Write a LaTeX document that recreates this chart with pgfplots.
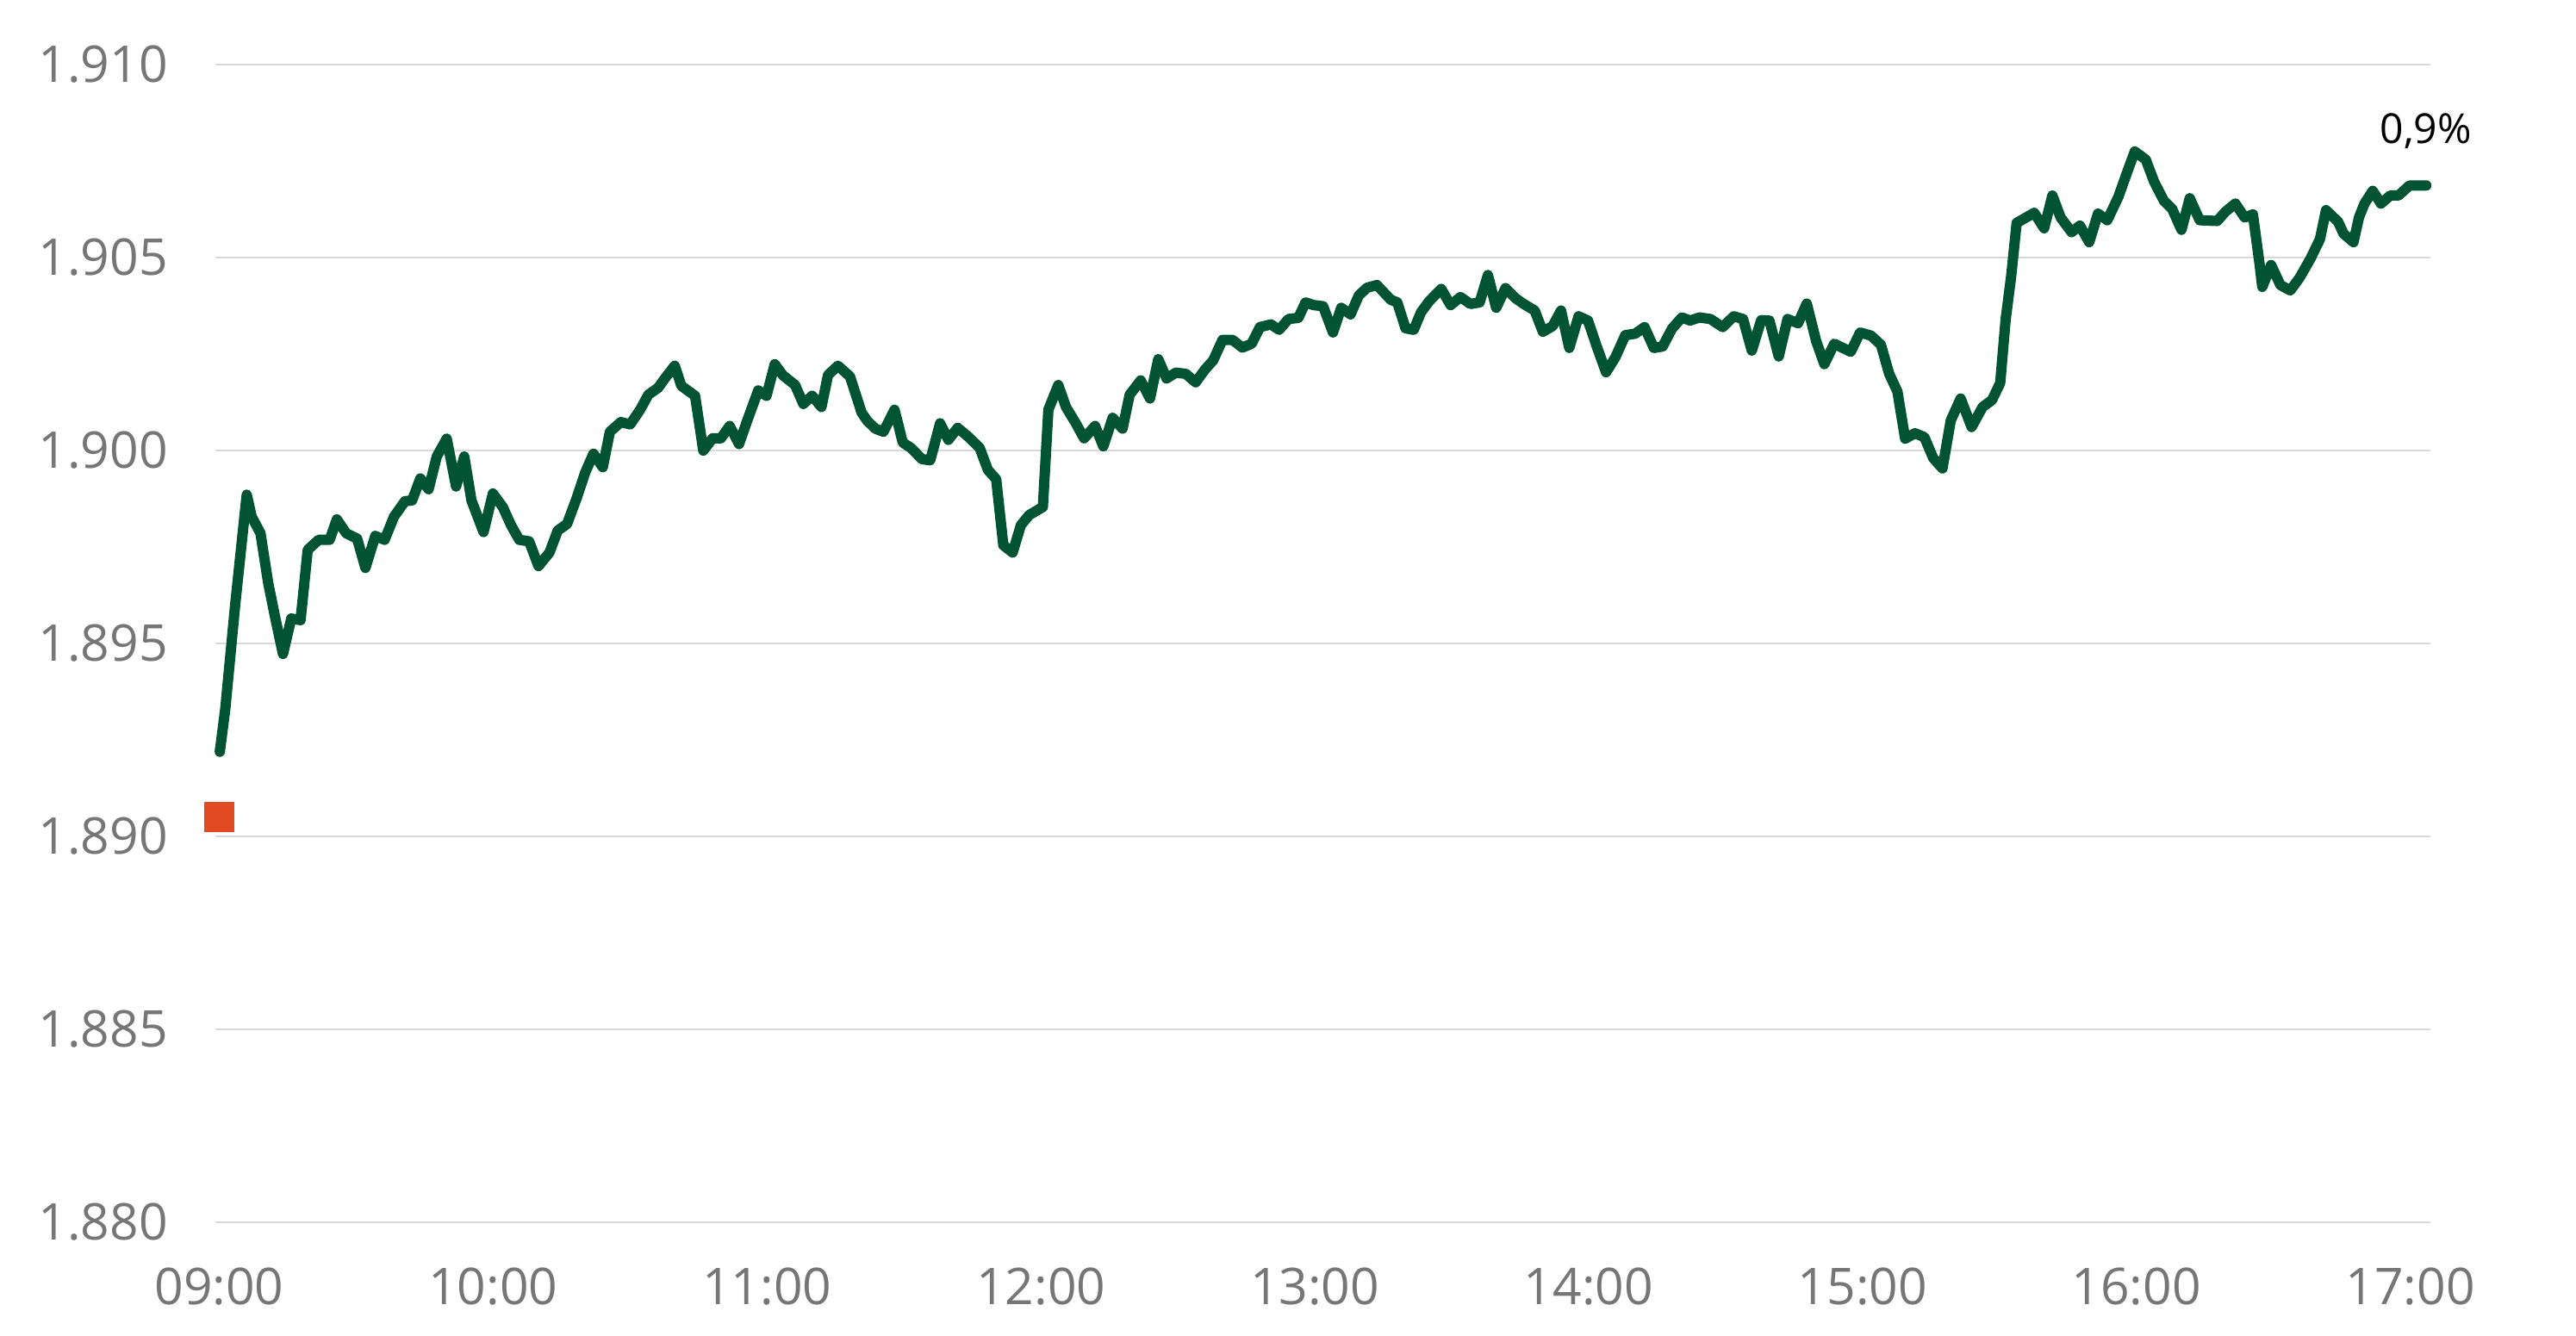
\documentclass[border=0pt]{standalone}
\usepackage{fontspec}
\setmainfont{Open Sans}
\usepackage{pgfplots}
\usepackage{pgfplotstable}
\pgfplotsset{compat=1.18}

\definecolor{lineGreen}{RGB}{0,83,51}
\definecolor{closeRed}{RGB}{224,75,35}
\definecolor{gridGray}{RGB}{217,217,217}
\definecolor{tickGray}{RGB}{118,118,118}

% minutes after 09:00, index level
\pgfplotstableread{
m v
0.12 1.89219
1.32 1.89330
3.49 1.89600
6.02 1.89885
7.10 1.89828
9.03 1.89785
10.71 1.89657
12.16 1.89572
13.96 1.89472
15.77 1.89564
17.81 1.89560
19.38 1.89742
21.78 1.89768
24.19 1.89768
25.76 1.89821
27.80 1.89785
30.21 1.89771
32.02 1.89695
34.18 1.89778
36.23 1.89768
38.28 1.89828
40.68 1.89868
42.25 1.89870
44.05 1.89927
45.86 1.89899
47.66 1.89984
49.83 1.90030
51.88 1.89906
53.68 1.89984
55.25 1.89870
57.90 1.89788
59.94 1.89888
62.11 1.89853
63.91 1.89806
65.72 1.89768
67.89 1.89764
69.93 1.89700
72.34 1.89735
74.15 1.89792
76.19 1.89809
78.36 1.89878
80.16 1.89942
81.97 1.89991
84.02 1.89956
85.58 1.90048
87.99 1.90073
90.03 1.90067
92.20 1.90105
94.01 1.90144
96.17 1.90162
97.62 1.90186
99.78 1.90219
101.23 1.90167
104.24 1.90141
106.04 1.89999
108.09 1.90031
109.90 1.90031
111.82 1.90063
113.87 1.90016
115.67 1.90077
118.08 1.90155
119.89 1.90141
121.69 1.90223
123.50 1.90194
126.15 1.90169
127.95 1.90120
129.88 1.90141
131.92 1.90112
133.37 1.90195
135.53 1.90219
138.18 1.90191
140.71 1.90098
141.91 1.90077
143.72 1.90056
145.52 1.90048
147.93 1.90105
149.74 1.90020
151.54 1.90006
153.95 1.89977
155.76 1.89974
157.92 1.90070
159.73 1.90027
161.77 1.90058
164.18 1.90034
166.59 1.90006
168.39 1.89949
170.20 1.89925
171.77 1.89754
173.81 1.89735
175.62 1.89806
177.42 1.89832
180.43 1.89853
181.64 1.90105
183.80 1.90169
185.49 1.90112
187.65 1.90070
189.46 1.90031
191.87 1.90063
193.67 1.90010
195.72 1.90084
197.89 1.90056
199.45 1.90144
201.86 1.90181
203.90 1.90134
205.71 1.90236
207.52 1.90186
209.56 1.90201
211.73 1.90198
213.90 1.90176
215.94 1.90209
217.75 1.90233
219.79 1.90286
221.96 1.90286
224.13 1.90266
226.17 1.90276
227.98 1.90319
230.39 1.90326
232.19 1.90312
234.24 1.90340
236.40 1.90343
237.97 1.90383
239.77 1.90376
241.82 1.90373
243.99 1.90305
245.79 1.90369
247.84 1.90352
249.64 1.90401
251.45 1.90421
253.62 1.90428
256.63 1.90390
258.07 1.90383
259.88 1.90316
261.68 1.90312
263.25 1.90357
265.05 1.90386
267.70 1.90418
269.75 1.90376
271.91 1.90397
274.08 1.90379
276.12 1.90383
277.93 1.90454
279.74 1.90369
281.78 1.90420
283.95 1.90394
285.76 1.90379
288.17 1.90362
289.97 1.90307
292.14 1.90322
293.94 1.90362
295.75 1.90265
297.79 1.90347
299.84 1.90336
301.77 1.90269
303.81 1.90202
305.86 1.90241
308.02 1.90298
310.19 1.90302
312.24 1.90319
314.28 1.90265
316.21 1.90269
318.26 1.90315
320.42 1.90344
322.23 1.90336
324.27 1.90344
326.68 1.90340
329.37 1.90319
331.77 1.90347
333.82 1.90340
335.74 1.90258
337.79 1.90337
339.60 1.90336
341.64 1.90243
343.57 1.90340
345.86 1.90329
347.78 1.90380
349.83 1.90283
351.63 1.90223
353.80 1.90276
357.41 1.90255
359.46 1.90305
361.86 1.90297
364.03 1.90273
365.84 1.90198
367.64 1.90152
369.33 1.90030
371.49 1.90044
373.54 1.90034
375.47 1.89980
377.51 1.89953
379.32 1.90077
381.49 1.90134
383.89 1.90060
386.30 1.90112
388.35 1.90130
390.15 1.90174
391.36 1.90340
392.56 1.90451
393.76 1.90589
397.61 1.90615
399.78 1.90575
401.59 1.90660
403.39 1.90603
405.80 1.90565
407.61 1.90582
409.65 1.90539
411.58 1.90613
413.62 1.90596
416.03 1.90656
418.08 1.90724
419.64 1.90774
422.05 1.90753
423.86 1.90696
426.03 1.90646
427.83 1.90625
429.87 1.90571
431.68 1.90653
433.85 1.90596
437.70 1.90594
439.50 1.90618
441.67 1.90639
443.72 1.90603
445.52 1.90611
446.97 1.90483
447.57 1.90423
449.50 1.90480
451.54 1.90428
453.71 1.90414
455.75 1.90447
458.16 1.90497
460.21 1.90547
461.53 1.90622
464.18 1.90592
465.38 1.90561
467.55 1.90539
468.75 1.90603
469.96 1.90639
471.76 1.90672
473.57 1.90639
475.61 1.90660
477.42 1.90660
479.83 1.90686
483.50 1.90686
}\intraday

\begin{document}
\begin{tikzpicture}
\begin{axis}[
    scale only axis,
    width=642.75pt,
    height=336.1pt,
    xmin=-0.85, xmax=484.4,
    ymin=1.880, ymax=1.910,
    clip=false,
    axis line style={draw=none},
    major tick length=0pt,
    xtick={0,60,120,180,240,300,360,420,480},
    xticklabels={09:00,10:00,11:00,12:00,13:00,14:00,15:00,16:00,17:00},
    ytick={1.880,1.885,1.890,1.895,1.900,1.905,1.910},
    yticklabels={1.880,1.885,1.890,1.895,1.900,1.905,1.910},
    ymajorgrids=true,
    grid style={gridGray, line width=0.5pt},
    tick label style={font=\fontsize{14.7}{17}\selectfont, text=tickGray},
    yticklabel style={anchor=east, xshift=-10.3pt},
    xticklabel style={anchor=north, yshift=-9.8pt},
]
\addplot[lineGreen, line width=3pt, line cap=round, line join=round]
    table[x=m, y=v] {\intraday};
\addplot[only marks, mark=square*, mark size=4.1pt, closeRed,
    mark options={draw=none, fill=closeRed}]
    coordinates {(0,1.8905)};
\node[font=\fontsize{12}{14}\selectfont, text=black]
    at (axis cs:483.4,1.90827) {0,9\%};
\end{axis}
\path (-62.5pt,-33pt) rectangle (685pt,354.75pt);
\end{tikzpicture}
\end{document}
